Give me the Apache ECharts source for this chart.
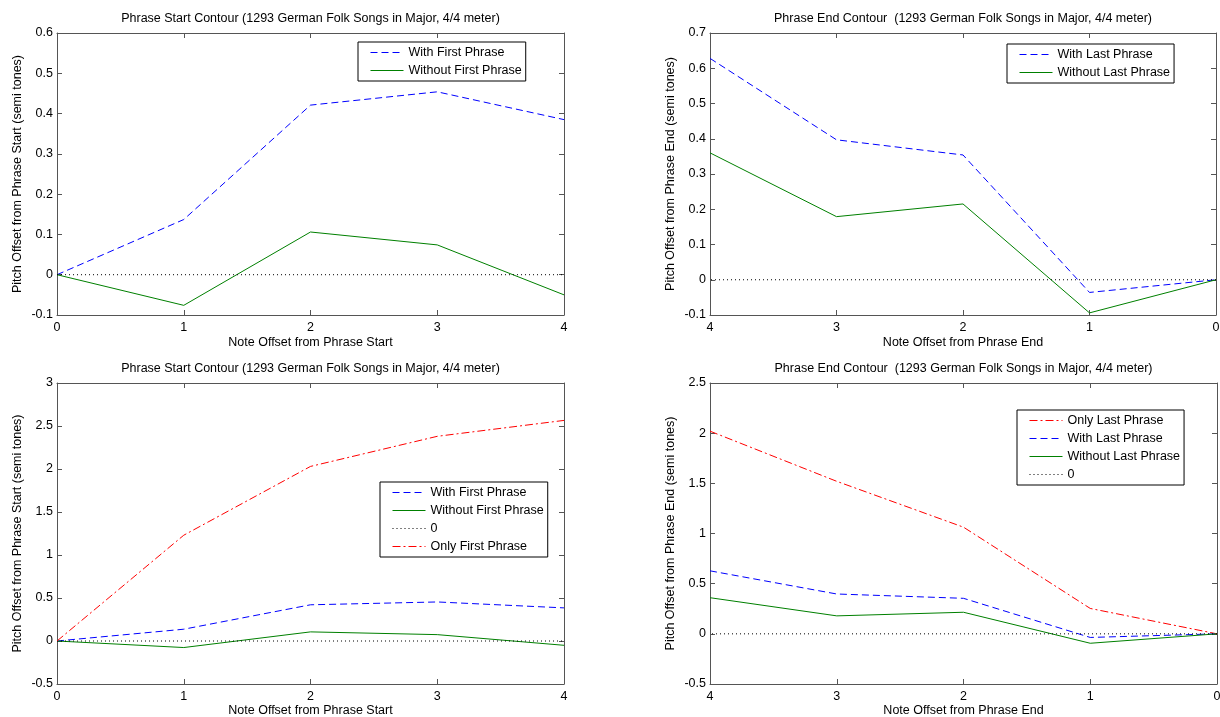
<!DOCTYPE html>
<html>
<head>
<meta charset="utf-8">
<title>Phrase Contours</title>
<script src="https://cdn.jsdelivr.net/npm/echarts@6/dist/echarts.min.js"></script>
<style>
  html, body { margin: 0; padding: 0; background: #fff; }
  #wrap { position: relative; width: 1220px; height: 717px; }
  .panel { position: absolute; width: 610px; }
</style>
</head>
<body>
<div id="wrap">
  <div class="panel" id="tl" style="left:0;top:0;height:358px"></div>
  <div class="panel" id="tr" style="left:610px;top:0;height:358px"></div>
  <div class="panel" id="bl" style="left:0;top:358px;height:359px"></div>
  <div class="panel" id="br" style="left:610px;top:358px;height:359px"></div>
</div>
<script>
// note offsets
const startOffsets = [0, 1, 2, 3, 4]
const endOffsets = [4, 3, 2, 1, 0]

// phrase start contour (semi tones)
const withFirst = [0, 0.137, 0.421, 0.454, 0.385]
const withoutFirst = [0, -0.076, 0.106, 0.074, -0.050]
const onlyFirst = [0, 1.23, 2.03, 2.38, 2.565]

// phrase end contour (semi tones)
const withLast = [0.628, 0.397, 0.354, -0.036, 0]
const withoutLast = [0.360, 0.179, 0.215, -0.094, 0]
const onlyLast = [2.02, 1.52, 1.063, 0.253, 0]

// the dotted reference line
const zeroLine = [0, 0]
const zeroX = [0, 4]

const FONT = '"Liberation Sans", Arial, Helvetica, sans-serif'
const FONT_SIZE = 12.5
const AXIS_COLOR = '#555'

const titleStart = 'Phrase Start Contour (1293 German Folk Songs in Major, 4/4 meter)'
const titleEnd = 'Phrase End Contour  (1293 German Folk Songs in Major, 4/4 meter)'

const pairs = (xs, ys) => xs.map((x, i) => [x, ys[i]])

const lineSeries = (name, xs, ys, color, type) => ({
  name,
  type: 'line',
  data: pairs(xs, ys),
  symbol: 'none',
  animation: false,
  lineStyle: { color, width: 1, type },
  itemStyle: { color }
})

const STYLES = {
  blue: ['#0000ff', [7, 4]],
  green: ['#008000', 'solid'],
  red: ['#ff0000', [8, 3, 2, 3]],
  zero: ['#000000', [1, 3]]
}

const textStyle = { color: '#000', fontSize: FONT_SIZE, fontFamily: FONT }

function axes (cfg) {
  const base = {
    type: 'value',
    axisLine: { show: true, onZero: false, lineStyle: { color: AXIS_COLOR, width: 1 } },
    axisTick: { show: true, inside: true, length: 5, lineStyle: { color: AXIS_COLOR } },
    splitLine: { show: false },
    axisLabel: { ...textStyle }
  }
  const xBase = { ...base, min: 0, max: 4, interval: 1, inverse: cfg.xInverse }
  const yBase = { ...base, min: cfg.yMin, max: cfg.yMax, interval: cfg.yInterval }
  return {
    xAxis: [
      {
        ...xBase,
        position: 'bottom',
        name: cfg.xName,
        nameLocation: 'middle',
        nameGap: cfg.xNameGap,
        nameMoveOverlap: false,
        nameTextStyle: textStyle,
        axisLabel: { ...textStyle, margin: 6 }
      },
      { ...xBase, position: 'top', axisLabel: { show: false } }
    ],
    yAxis: [
      {
        ...yBase,
        position: 'left',
        name: cfg.yName,
        nameLocation: 'middle',
        nameGap: 33,
        nameMoveOverlap: false,
        nameTextStyle: textStyle,
        axisLabel: { ...textStyle, margin: 4 }
      },
      { ...yBase, position: 'right', axisLabel: { show: false } }
    ]
  }
}

// legend entries copy the style of their series, without a marker
function legendData (cfg) {
  return cfg.legend.data.map(name => {
    const s = cfg.series.find(item => item.name === name)
    return {
      name,
      itemStyle: { opacity: 0 },
      lineStyle: { color: s.lineStyle.color, width: 1, type: s.lineStyle.type, opacity: 1 }
    }
  })
}

function buildOption (cfg) {
  const g = cfg.grid
  return {
    backgroundColor: '#fff',
    animation: false,
    textStyle: { fontFamily: FONT },
    title: {
      text: cfg.title,
      left: g.left + g.width / 2,
      top: cfg.titleTop,
      textAlign: 'center',
      padding: 0,
      textStyle: { ...textStyle, fontWeight: 'normal' }
    },
    grid: {
      left: g.left,
      top: g.top,
      width: g.width,
      height: g.height,
      containLabel: false,
      outerBoundsMode: 'none'
    },
    ...axes(cfg),
    legend: {
      orient: 'vertical',
      left: cfg.legend.left,
      top: cfg.legend.top,
      padding: [4, 4, 4, 12],
      itemWidth: 33,
      itemHeight: 12,
      itemGap: 5,
      borderColor: '#000',
      borderWidth: 1,
      backgroundColor: '#fff',
      selectedMode: false,
      textStyle: textStyle,
      data: legendData(cfg)
    },
    series: cfg.series
  }
}

const panels = [
  {
    id: 'tl',
    title: titleStart,
    titleTop: 12,
    grid: { left: 57, top: 33, width: 507, height: 282 },
    xName: 'Note Offset from Phrase Start',
    xNameGap: 21,
    yName: 'Pitch Offset from Phrase Start (semi tones)',
    xInverse: false,
    yMin: -0.1, yMax: 0.6, yInterval: 0.1,
    legend: { left: 358, top: 42, data: ['With First Phrase', 'Without First Phrase'] },
    series: [
      lineSeries('With First Phrase', startOffsets, withFirst, ...STYLES.blue),
      lineSeries('Without First Phrase', startOffsets, withoutFirst, ...STYLES.green),
      lineSeries('0', zeroX, zeroLine, ...STYLES.zero)
    ]
  },
  {
    id: 'tr',
    title: titleEnd,
    titleTop: 12,
    grid: { left: 100, top: 33, width: 506, height: 282 },
    xName: 'Note Offset from Phrase End',
    xNameGap: 21,
    yName: 'Pitch Offset from Phrase End (semi tones)',
    xInverse: true,
    yMin: -0.1, yMax: 0.7, yInterval: 0.1,
    legend: { left: 397, top: 44, data: ['With Last Phrase', 'Without Last Phrase'] },
    series: [
      lineSeries('With Last Phrase', endOffsets, withLast, ...STYLES.blue),
      lineSeries('Without Last Phrase', endOffsets, withoutLast, ...STYLES.green),
      lineSeries('0', zeroX, zeroLine, ...STYLES.zero)
    ]
  },
  {
    id: 'bl',
    title: titleStart,
    titleTop: 4,
    grid: { left: 57, top: 25, width: 507, height: 301 },
    xName: 'Note Offset from Phrase Start',
    xNameGap: 20,
    yName: 'Pitch Offset from Phrase Start (semi tones)',
    xInverse: false,
    yMin: -0.5, yMax: 3, yInterval: 0.5,
    legend: { left: 380, top: 124, data: ['With First Phrase', 'Without First Phrase', '0', 'Only First Phrase'] },
    series: [
      lineSeries('With First Phrase', startOffsets, withFirst, ...STYLES.blue),
      lineSeries('Without First Phrase', startOffsets, withoutFirst, ...STYLES.green),
      lineSeries('0', zeroX, zeroLine, ...STYLES.zero),
      lineSeries('Only First Phrase', startOffsets, onlyFirst, ...STYLES.red)
    ]
  },
  {
    id: 'br',
    title: titleEnd,
    titleTop: 4,
    grid: { left: 100, top: 25, width: 507, height: 301 },
    xName: 'Note Offset from Phrase End',
    xNameGap: 20,
    yName: 'Pitch Offset from Phrase End (semi tones)',
    xInverse: true,
    yMin: -0.5, yMax: 2.5, yInterval: 0.5,
    legend: { left: 407, top: 52, data: ['Only Last Phrase', 'With Last Phrase', 'Without Last Phrase', '0'] },
    series: [
      lineSeries('Only Last Phrase', endOffsets, onlyLast, ...STYLES.red),
      lineSeries('With Last Phrase', endOffsets, withLast, ...STYLES.blue),
      lineSeries('Without Last Phrase', endOffsets, withoutLast, ...STYLES.green),
      lineSeries('0', zeroX, zeroLine, ...STYLES.zero)
    ]
  }
]

panels.forEach(cfg => {
  const chart = echarts.init(document.getElementById(cfg.id), null, { renderer: 'canvas' })
  chart.setOption(buildOption(cfg))
})
</script>
</body>
</html>
